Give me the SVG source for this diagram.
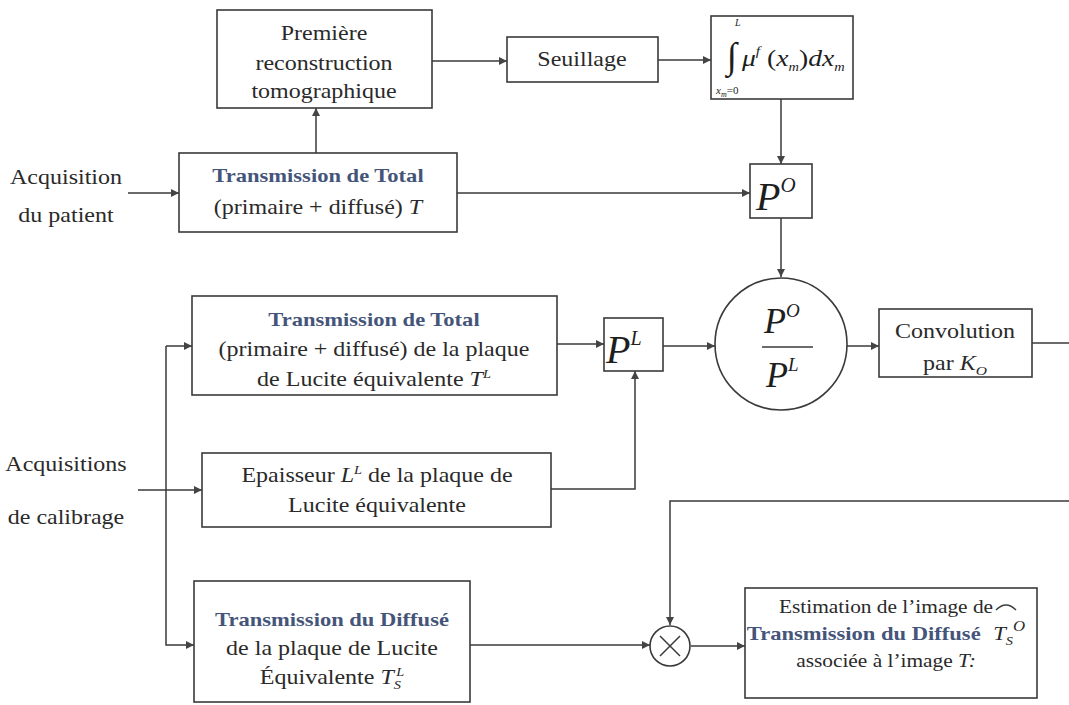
<svg xmlns="http://www.w3.org/2000/svg" width="1069" height="705" viewBox="0 0 1069 705">
<style>
.box{fill:#fff;stroke:#3a3a3a;stroke-width:1.6}
.ln{fill:none;stroke:#3a3a3a;stroke-width:1.5}
.t{font-family:"Liberation Serif",serif;font-size:20px;fill:#2a2a2a}
.s{font-size:17.8px}
.b{font-weight:bold;fill:#45557a;font-size:18.8px}
.i{font-style:italic}
.m{font-family:"Liberation Serif",serif;font-style:italic;fill:#1e1e1e}
</style>
<defs>
<marker id="ah" viewBox="0 0 10 10" refX="10" refY="5" markerWidth="10" markerHeight="8" markerUnits="userSpaceOnUse" orient="auto">
<path d="M0,0 L10,5 L0,10 z" fill="#444"/>
</marker>
</defs>
<rect width="1069" height="705" fill="#fff"/>

<g id="connectors">
<path class="ln" d="M128,193 H179" marker-end="url(#ah)"/>
<path class="ln" d="M316,153 V108" marker-end="url(#ah)"/>
<path class="ln" d="M432,61 H507" marker-end="url(#ah)"/>
<path class="ln" d="M658,60 H711" marker-end="url(#ah)"/>
<path class="ln" d="M781,99 V164" marker-end="url(#ah)"/>
<path class="ln" d="M457,193 H750" marker-end="url(#ah)"/>
<path class="ln" d="M781,218 V277" marker-end="url(#ah)"/>
<path class="ln" d="M557,344 H604" marker-end="url(#ah)"/>
<path class="ln" d="M663,346 H715" marker-end="url(#ah)"/>
<path class="ln" d="M847,346 H879" marker-end="url(#ah)"/>
<path class="ln" d="M1032,343 H1069"/>
<path class="ln" d="M551,489 H635 V371" marker-end="url(#ah)"/>
<path class="ln" d="M138,490 H202" marker-end="url(#ah)"/>
<path class="ln" d="M166,346 V645 H194" marker-end="url(#ah)"/>
<path class="ln" d="M166,346 H192" marker-end="url(#ah)"/>
<path class="ln" d="M470,645 H650" marker-end="url(#ah)"/>
<path class="ln" d="M1069,501 H670 V625" marker-end="url(#ah)"/>
<path class="ln" d="M691,646 H745" marker-end="url(#ah)"/>
</g>

<g id="premiere">
<rect class="box" x="217" y="10" width="215" height="98"/>
<text class="t" text-anchor="middle" transform="translate(324 0) scale(1.2 1)"><tspan x="0" y="40">Première</tspan><tspan x="0" y="70">reconstruction</tspan><tspan x="0" y="98">tomographique</tspan></text>
</g>

<g id="seuillage">
<rect class="box" x="507" y="37" width="151" height="45"/>
<text class="t" text-anchor="middle" transform="translate(582 0) scale(1.2 1)" x="0" y="66">Seuillage</text>
</g>

<g id="integrale">
<rect class="box" x="711" y="16" width="142" height="83"/>
<text class="m" x="735" y="26" font-size="10">L</text>
<text class="m" x="727" y="68" font-size="37" font-style="normal">∫</text>
<text class="m" x="716" y="94" font-size="11">x<tspan font-size="8" dy="3">m</tspan><tspan dy="-3" font-style="normal">=0</tspan></text>
<text class="m" font-size="23" transform="translate(742 0) scale(1.2 1)" x="0" y="66">μ<tspan font-size="13" dy="-11">f</tspan><tspan dy="11" font-style="normal"> (</tspan>x<tspan font-size="12" dy="5">m</tspan><tspan dy="-5" font-style="normal">)</tspan>dx<tspan font-size="12" dy="5">m</tspan></text>
</g>

<g id="transmission-total">
<rect class="box" x="179" y="153" width="278" height="79"/>
<text class="t" text-anchor="middle" transform="translate(318 0) scale(1.2 1)"><tspan class="b" x="0" y="182">Transmission de Total</tspan><tspan x="0" y="214">(primaire + diffusé) <tspan class="i">T</tspan></tspan></text>
</g>

<g id="acquisition-patient">
<text class="t" text-anchor="middle" transform="translate(66 0) scale(1.2 1)"><tspan x="0" y="184">Acquisition</tspan><tspan x="0" y="222">du patient</tspan></text>
</g>

<g id="po">
<rect class="box" x="750" y="164" width="62" height="54"/>
<text class="m" x="756" y="210" font-size="40">P<tspan font-size="21" dy="-18">O</tspan></text>
</g>

<g id="ratio">
<circle cx="781" cy="344" r="66" fill="#fff" stroke="#3a3a3a" stroke-width="1.6"/>
<text class="m" x="764" y="333" font-size="36">P<tspan font-size="19" dy="-16">O</tspan></text>
<path class="ln" d="M762,347 H813"/>
<text class="m" x="766" y="387" font-size="36">P<tspan font-size="19" dy="-16">L</tspan></text>
</g>

<g id="pl">
<rect class="box" x="604" y="318" width="59" height="53"/>
<text class="m" x="606" y="363" font-size="40">P<tspan font-size="20" dy="-18">L</tspan></text>
</g>

<g id="convolution">
<rect class="box" x="879" y="309" width="153" height="68"/>
<text class="t" text-anchor="middle" transform="translate(955 0) scale(1.2 1)" font-size="19"><tspan x="0" y="338">Convolution</tspan><tspan x="0" y="370">par <tspan class="i">K<tspan font-size="13" dy="5">O</tspan></tspan></tspan></text>
</g>

<g id="transmission-lucite">
<rect class="box" x="192" y="296" width="365" height="99"/>
<text class="t" text-anchor="middle" transform="translate(374 0) scale(1.2 1)"><tspan class="b" x="0" y="326">Transmission de Total</tspan><tspan x="0" y="356">(primaire + diffusé) de la plaque</tspan><tspan x="0" y="386">de Lucite équivalente <tspan class="i">T<tspan font-size="12" dy="-8">L</tspan></tspan></tspan></text>
</g>

<g id="acquisitions-calibrage">
<text class="t" text-anchor="middle" transform="translate(66 0) scale(1.2 1)"><tspan x="0" y="471">Acquisitions</tspan><tspan x="0" y="524">de calibrage</tspan></text>
</g>

<g id="epaisseur">
<rect class="box" x="202" y="453" width="349" height="74"/>
<text class="t" text-anchor="middle" transform="translate(377 0) scale(1.2 1)"><tspan x="0" y="482">Epaisseur <tspan class="i">L<tspan font-size="12" dy="-8">L</tspan></tspan><tspan dy="8"> de la plaque de</tspan></tspan><tspan x="0" y="512">Lucite équivalente</tspan></text>
</g>

<g id="transmission-diffuse">
<rect class="box" x="194" y="581" width="276" height="121"/>
<text class="t" text-anchor="middle" transform="translate(332 0) scale(1.2 1)"><tspan class="b" x="0" y="626">Transmission du Diffusé</tspan><tspan x="0" y="655">de la plaque de Lucite</tspan><tspan x="0" y="684">Équivalente <tspan class="i">T<tspan font-size="12" dy="5">S</tspan><tspan font-size="12" dx="-4" dy="-13">L</tspan></tspan></tspan></text>
</g>

<g id="multiplication">
<circle cx="670" cy="646" r="20" fill="#fff" stroke="#3a3a3a" stroke-width="1.6"/>
<path class="ln" d="M660,636 L680,656 M680,636 L660,656"/>
</g>

<g id="estimation">
<rect class="box" x="745" y="588" width="292" height="110"/>
<text class="t s" text-anchor="middle" transform="translate(886 0) scale(1.2 1)"><tspan x="0" y="613">Estimation de l’image de</tspan><tspan x="0" y="640"><tspan class="b">Transmission du Diffusé</tspan> <tspan class="i" font-size="19" dx="6">T<tspan font-size="12" dy="5">S</tspan><tspan font-size="14" dy="-14">O</tspan></tspan></tspan><tspan x="0" y="667">associée à l’image <tspan class="i">T:</tspan></tspan></text>
<path class="ln" d="M996,610 Q1006,600 1016,610" stroke-width="1.2"/>
</g>
</svg>
